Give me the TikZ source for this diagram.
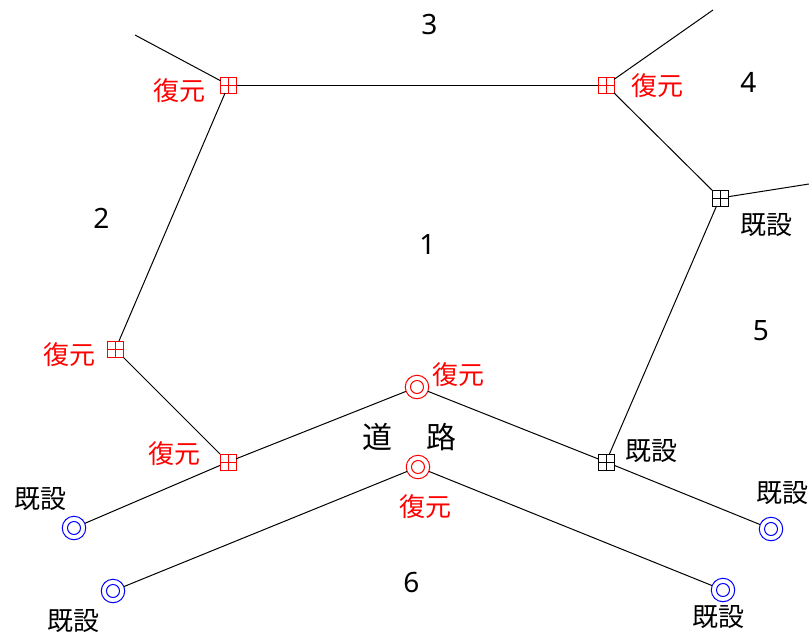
\documentclass[tikz,border=0pt]{standalone}
\usepackage{fontspec}
\setmainfont{Noto Sans}
\newfontfamily\cjk{Noto Sans CJK JP}
\definecolor{mhred}{rgb}{1,0,0}
\tikzset{
  pipe/.style={draw=black,line width=1pt},
  sqshape/.style={draw=#1,line width=0.9pt,rectangle,minimum size=16pt,inner sep=0pt,outer sep=0pt},
  sqbar/.style={draw=#1,line width=0.9pt},
  ring/.style={draw=#1,line width=1pt,circle,minimum size=23.5pt,inner sep=0pt,outer sep=0pt},
  ringin/.style={draw=#1,line width=1pt},
  lab/.style={font=\cjk\fontsize{26}{26}\selectfont,text=#1,inner sep=0pt},
  num/.style={font=\fontsize{28}{28}\selectfont,text=black,inner sep=0pt}
}
\newcommand{\sqbox}[3]{%
  \node[sqshape=#1] (#2) at (#3) {};
  \draw[sqbar=#1] (#2.north) -- (#2.south) (#2.west) -- (#2.east);
}
\newcommand{\ringbox}[3]{%
  \node[ring=#1] (#2) at (#3) {};
  \draw[ringin=#1] (#2.center) circle (6.5pt);
}
\begin{document}
\begin{tikzpicture}[x=1pt,y=-1pt]
\useasboundingbox (0,0) rectangle (809,632);
\sqbox{mhred}{sd}{115.4,349.4}
\sqbox{mhred}{sa}{228.5,85}
\sqbox{mhred}{sb}{606,85}
\sqbox{mhred}{se}{228,462}
\sqbox{black}{sc}{720,198}
\sqbox{black}{sf}{606,462}
\ringbox{red}{rg}{417,387}
\ringbox{red}{rh}{418,467}
\ringbox{blue}{ri}{74,528}
\ringbox{blue}{rj}{113,591}
\ringbox{blue}{rk}{771,529}
\ringbox{blue}{rl}{723,590}
\coordinate (fa) at (135,35);
\coordinate (fb) at (713,10);
\coordinate (fc) at (809,184);
\draw[pipe] (sa) -- (fa);
\draw[pipe] (sb) -- (fb);
\draw[pipe] (sc) -- (fc);
\draw[pipe] (sa) -- (sb);
\draw[pipe] (sb) -- (sc);
\draw[pipe] (sc) -- (sf);
\draw[pipe] (sa) -- (sd);
\draw[pipe] (sd) -- (se);
\draw[pipe] (se) -- (rg);
\draw[pipe] (rg) -- (sf);
\draw[pipe] (sf) -- (rk);
\draw[pipe] (se) -- (ri);
\draw[pipe] (rh) -- (rj);
\draw[pipe] (rh) -- (rl);
\node[lab=red] (t1) at (179.5,91) {復元};
\node[lab=red] (t2) at (657.5,86) {復元};
\node[lab=red] (t3) at (69.5,355) {復元};
\node[lab=red] (t4) at (174.5,454) {復元};
\node[lab=red] (t5) at (458.5,375) {復元};
\node[lab=red] (t6) at (425.5,507) {復元};
\node[lab=black] (t7) at (766.5,225) {既設};
\node[lab=black] (t8) at (651.5,451) {既設};
\node[lab=black] (t9) at (40,499) {既設};
\node[lab=black] (t10) at (782.5,493) {既設};
\node[lab=black] (t11) at (73.5,621) {既設};
\node[lab=black] (t12) at (718.5,617) {既設};
\node[lab=black,font=\cjk\fontsize{30}{30}\selectfont] (road) at (409.5,437) {道\hspace{34pt}路};
\node[num] (n3) at (429.5,25) {3};
\node[num] (n4) at (748.5,82) {4};
\node[num] (n2) at (101.5,218) {2};
\node[num] (n1) at (427.5,245) {1};
\node[num] (n5) at (761,331) {5};
\node[num] (n6) at (411.5,582) {6};
\end{tikzpicture}
\end{document}
